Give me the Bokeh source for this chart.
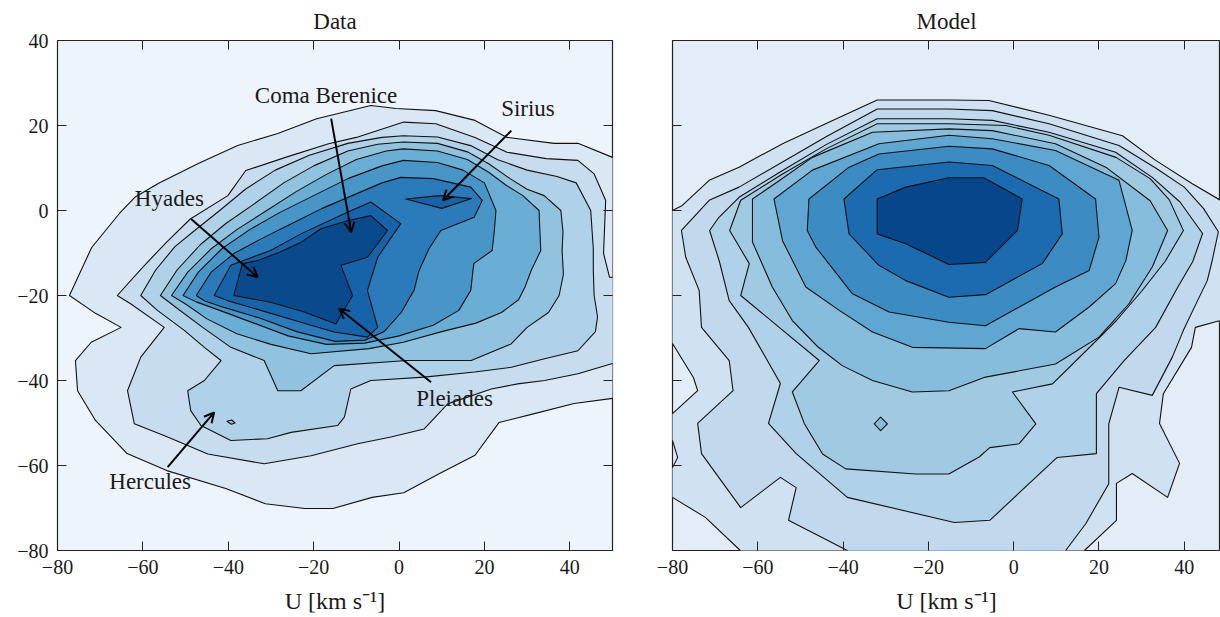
from bokeh.plotting import figure
from bokeh.layouts import row
from bokeh.models import FixedTicker, LinearAxis, Label, Arrow, OpenHead
from bokeh.embed import file_html
from bokeh.resources import INLINE

# ---------------------------------------------------------------- ticks
TICKS = [-80, -60, -40, -20, 0, 20, 40]
TICK_LABELS = ["\u221280", "\u221260", "\u221240", "\u221220", "0", "20", "40"]
X_AXIS_TITLE = "U [km s\u207b\u00b9]"

# ------------------------------------------------- filled contour bands
# Each level is the closed outline (U, V) in km/s of the region above that level.
DATA_COLORS = ["#edf4fb", "#dae8f5", "#c7dcef", "#b0d2e8", "#92c3de",
               "#6aaed6", "#4896c8", "#2b7bba", "#1663aa", "#0a4a8c"]
MODEL_COLORS = ["#e3edf8", "#d0e2f2", "#c1d8ed", "#b0d2e8", "#a0c9e2",
                "#86bddc", "#5fa6d2", "#3c8cc3", "#1c6aaf", "#08468b"]

DATA_L1 = [(-77.2, -20.0), (-72.0, -8.7), (-65.5, -0.7), (-61.9, 3.1), (-56.3, 6.4),
           (-46.9, 11.1), (-37.8, 15.3), (-28.4, 18.1), (-19.3, 21.6), (-6.6, 24.7),
           (-0.7, 24.0), (8.6, 23.5), (17.8, 21.2), (25.3, 17.2), (36.3, 15.8),
           (41.9, 15.8), (50, 12.5), (55, 12), (55, -44), (50, -44.2), (41.0, -45.4),
           (31.7, -47.8), (23.4, -49.9), (17.8, -57.6), (9.5, -61.9), (1.1, -66.4),
           (-6.3, -67.5), (-15.5, -70.1), (-22.1, -70.1), (-31.3, -69.0), (-40.6, -65.4),
           (-54.4, -61.2), (-63.7, -57.2), (-71.1, -49.4), (-75.3, -42.4), (-75.8, -35.3),
           (-72.1, -31.0), (-65.1, -27.5), (-71.1, -24.2)]
DATA_L2 = [(-66.0, -20.0), (-60.0, -13.3), (-54.5, -7.5), (-48.9, -2.0), (-40.1, 3.5),
           (-35.9, 9.4), (-26.6, 12.5), (-16.5, 15.7), (-10.0, 17.2), (1.1, 20.8),
           (8.6, 20.4), (17.8, 17.2), (25.3, 13.7), (34.5, 12.2), (41.9, 11.8),
           (45.7, 8.6), (48.4, 2.4), (47.9, -10.1), (49.3, -15.7), (55, -16), (55, -36),
           (50, -36), (41.9, -38.4), (34.1, -40.0), (27.8, -40.8), (21.6, -42.0),
           (11.4, -45.5), (5.9, -51.4), (-1.9, -53.3), (-9.7, -54.9), (-20.6, -57.7),
           (-31.6, -59.6), (-44.8, -57.3), (-54.2, -53.3), (-62.0, -50.2), (-63.6, -42.4),
           (-60.5, -34.5), (-55.0, -27.5), (-62.8, -22.0)]
DATA_L3 = [(-60.5, -20), (-57, -14), (-52.5, -8.5), (-47, -4), (-42, 0), (-36, 5),
           (-29, 9.5), (-21, 13), (-12, 15.8), (-4, 17.2), (1, 17.6), (9, 17.3),
           (17, 15.2), (23, 12), (30, 9.5), (37, 8), (41.5, 6.5), (44.9, 0), (45.5, -9),
           (45.5, -14), (45.7, -20), (46.5, -25), (46, -28.5), (41.9, -33.0),
           (34.1, -34.9), (26.3, -36.9), (17.7, -38.0), (5.9, -39.2), (-6.6, -40.0),
           (-11.3, -42.0), (-12.8, -48.6), (-14.4, -50.6), (-25.3, -52.2), (-30.8, -53.7),
           (-39.4, -54.1), (-46.4, -50.6), (-48.8, -47.1), (-49.5, -42.4), (-45.6, -40.0),
           (-41.7, -35.3), (-45.6, -32.2), (-50.3, -28.2), (-56.6, -23.5)]
DATA_L4 = [(-55.9, -20), (-52, -14), (-46.5, -8), (-40.5, -3), (-34, 1.5), (-27, 6.5),
           (-20, 10.5), (-12, 14), (-5, 15.6), (1, 16.1), (9, 15.8), (16, 13.8), (21, 11),
           (26, 7.5), (30, 5), (34, 3.5), (37.9, 0), (38.4, -5), (38.2, -9.5), (38.5, -15),
           (37.5, -20), (35, -24), (30, -27.5), (26.25, -31.4), (16.9, -35.3), (1.9, -35.3),
           (-15.2, -36.5), (-23.0, -42.4), (-28.4, -42.4), (-31.6, -35.3), (-39.4, -32.2),
           (-46, -27.5), (-52, -23)]
DATA_L5 = [(-53.3, -20), (-49.5, -14.5), (-44, -9), (-38, -4.5), (-31, 0), (-24, 4.5),
           (-17, 8.5), (-10, 12), (-3, 14), (1, 14.5), (9, 14), (16, 12), (21, 9), (25, 6),
           (29, 3.5), (32.8, 0), (33, -5), (33.2, -9.4), (31, -14), (29.5, -18),
           (28, -21), (24, -24), (18, -26.5), (10, -28.5), (1, -31), (-7, -32.5),
           (-20.6, -33.7), (-30, -31.5), (-38, -29), (-45, -25.5), (-50, -22)]
DATA_L6 = [(-50.6, -20), (-47, -14.5), (-41.5, -9), (-35, -4.5), (-28, -0.5), (-20, 3.5),
           (-12, 7.5), (-4, 10.5), (1, 11.8), (9, 11.3), (15, 9.5), (20, 6.5), (22.7, 0),
           (22.3, -5), (21.8, -9.4), (17.5, -12.5), (16.8, -18.8), (14, -23.5), (8, -27),
           (0, -29.5), (-8, -31.2), (-17, -31.5), (-26, -29.5), (-34, -26.5), (-42, -23.5),
           (-47.5, -21.5)]
DATA_L7 = [(-47.5, -20), (-44, -14.5), (-38.5, -10), (-32, -6.5), (-25, -3), (-18, 0.5),
           (-11, 3.5), (-4, 6.5), (0.4, 7.8), (8, 7.5), (16.8, 5.5), (19.5, 2.4),
           (17.6, -1.6), (9.8, -4.7), (7, -9), (4.7, -14.1), (3.5, -18.8), (0.5, -24),
           (-3.5, -28.5), (-8, -30.5), (-15, -30.8), (-24, -28.5), (-33, -25.2),
           (-41, -22.8), (-45.5, -21.3)]
DATA_L8 = [(-43.3, -20.0), (-39.4, -12.9), (-30.1, -9.4), (-23.0, -5.5), (-12.1, -0.4),
           (-6.6, 2.0), (0.4, -3.1), (-5.0, -11.0), (-7.4, -18.8), (-5.0, -27.5),
           (-7.4, -29.8), (-15.2, -28.6), (-23.0, -26.3), (-32.4, -23.5), (-40.2, -21.2)]
DATA_L9 = [(-38.7, -20.0), (-36.7, -12.5), (-33.2, -11.8), (-28, -9.8), (-23.0, -7.5),
           (-18.3, -4.3), (-12.1, -2.4), (-6.6, -1.2), (-2.7, -4.7), (-7.4, -11.0),
           (-13.6, -12.9), (-10.9, -20.0), (-14.8, -26.7), (-22.2, -23.9), (-30.1, -21.6)]
DATA_SIRIUS_L8 = [(1.6, 2.7), (9.5, 3.5), (17.0, 2.8), (10, 0.5)]
DATA_HERCULES_L4 = [(-40.3, -49.6), (-39.2, -49.3), (-38.4, -50.0), (-39.3, -50.3)]

MODEL_L1 = [(-85, 0), (-80, 0), (-77.7, 1.2), (-71.4, 7.1), (-64.4, 10.2), (-54.2, 15.7),
            (-44.1, 20.4), (-32.0, 26.0), (-15.2, 26.0), (-5.8, 25.9), (8.3, 22.4),
            (25.5, 17.6), (33.3, 11.8), (41.9, 6.3), (48.5, 2.4), (55, 0), (55, -26),
            (48, -26), (42.6, -27.5), (41.7, -32.2), (35.1, -43.1), (34.2, -50.1),
            (38.9, -59.5), (36.1, -67.5), (27.8, -61.9), (24.1, -64.2), (24.1, -72.9),
            (16.6, -80), (16, -85), (-65, -85), (-64.1, -80), (-72.3, -72.2), (-80, -67.5),
            (-85, -67.5), (-85, -60.5), (-80, -60.5), (-78.8, -58.1), (-80, -54.1),
            (-85, -54.1), (-85, -47.8), (-80, -47.8), (-74.1, -42.4), (-75.1, -39.3),
            (-80, -31.3), (-85, -31.3)]
MODEL_L2 = [(-77.9, -4.7), (-71.4, 2.4), (-64.4, 5.5), (-54.2, 11.4), (-44.1, 17.3),
            (-32.0, 23.9), (-15.2, 23.9), (-5.0, 23.5), (8.3, 20.4), (24.7, 15.3),
            (33.3, 10.0), (40, 5.5), (44.5, 0.5), (48, -5), (46.5, -12), (45.4, -16.5),
            (42.5, -22.5), (39.8, -28.2), (37.2, -34.5), (32.5, -43.5), (24.7, -41.6),
            (22.3, -50.2), (22.3, -64.3), (16.9, -73.7), (12.2, -80), (12, -85), (-39, -85),
            (-39.0, -80), (-52.8, -72.9), (-51.0, -65.2), (-54.7, -62.8), (-64.0, -69.9),
            (-73.2, -57.2), (-74.1, -50.1), (-65.8, -42.4), (-66.7, -35.3), (-73.2, -27.5),
            (-73.75, -18.8), (-76.9, -11.0)]
MODEL_L3 = [(-71.3, -4.7), (-69.1, -1.6), (-64.4, 3.1), (-54.2, 9.4), (-44, 15.5),
            (-32.0, 21.6), (-15.2, 21.6), (-5.0, 21.2), (8.3, 18.4), (23.9, 13.7),
            (32.5, 7.8), (39, 2), (44.3, -5.4), (42, -12), (38.5, -18), (33.3, -27.5),
            (25.9, -35.3), (19.4, -43.1), (19.4, -57.2), (10.2, -58.1), (-5.6, -72.9),
            (-13.9, -73.4), (-39.0, -67.5), (-51.0, -57.2), (-57.5, -50.1), (-54.7, -40.7),
            (-62.2, -27.5), (-66.7, -21.2), (-69, -12)]
MODEL_L4 = [(-66.6, -4.7), (-64, 2.4), (-54.2, 8.6), (-44, 14.5), (-32.0, 20.4),
            (-15.2, 20.4), (-1.9, 20.0), (8.3, 17.7), (24, 12.5), (32, 7.5), (36.5, 2.5),
            (39.8, -4.7), (35.5, -12), (30, -19), (24, -26), (17, -33), (9.1, -40.8),
            (-0.3, -42.7), (5.2, -50.2), (1.25, -54.9), (-5.6, -55.8), (-8.1, -58.0),
            (-15.2, -62.0), (-23, -62.0), (-39.4, -60.8), (-44.8, -57.3), (-49.1, -50.1),
            (-51.9, -42.7), (-45.6, -35.3), (-64.0, -20.0), (-62.0, -12.5)]
MODEL_L5 = [(-61.25, 2.7), (-55, 7), (-47.2, 12.5), (-33.1, 18.4), (-15.2, 19.2),
            (-5.0, 18.8), (9.8, 15.7), (21.6, 10.2), (32.0, 2.3), (36.1, -4.7),
            (32.5, -13.3), (27.0, -22.0), (20.0, -29.8), (9.8, -36.1), (2.0, -37.6),
            (-6.6, -39.2), (-15.2, -42.4), (-23.75, -42.7), (-33.1, -40.0), (-40.2, -36.5),
            (-46, -32), (-51.9, -25.9), (-56.6, -18.0), (-61.25, -7.4)]
MODEL_L6 = [(-56.2, 2.7), (-47.2, 9.5), (-31.6, 15.7), (-15.2, 17.7), (-5.0, 16.9),
            (9.8, 14.1), (24.7, 7.1), (27.8, -4.7), (26.3, -11.8), (23.9, -17.2),
            (17.7, -22.7), (9.8, -28.6), (1.25, -27.8), (-6.6, -32.5), (-23.75, -32.2),
            (-33.1, -28.6), (-40.9, -23.5), (-48.75, -18.0), (-51.1, -13.3), (-54.2, -7.1)]
MODEL_L7 = [(-48.4, -4.7), (-48.0, 2.7), (-38.6, 10.2), (-31.6, 13.3), (-15.2, 15.1),
            (-5.0, 14.5), (8.3, 10.6), (19.2, 2.7), (20.0, -6.3), (17.7, -14.1),
            (9.8, -18.0), (-6.6, -27.1), (-15.2, -26.3), (-29.2, -23.9), (-37.8, -19.6),
            (-46.4, -8.6)]
MODEL_L8 = [(-39.8, 2.7), (-32.0, 9.6), (-15.2, 11.4), (-5.0, 10.6), (10.6, 2.7),
            (11.4, -5.5), (6.7, -12.5), (-6.6, -19.8), (-15.2, -20.4), (-25.3, -16.5),
            (-31.6, -12.9), (-38.6, -5.5)]
MODEL_L9 = [(-32.0, 2.7), (-25.3, 5.5), (-15.2, 7.7), (-7.0, 7.7), (2.0, 2.7),
            (0.9, -4.7), (-6.6, -12.2), (-15.2, -12.7), (-25.3, -7.8), (-32.0, -5.5)]
MODEL_ISLAND_L5 = [(-32.7, -50.2), (-31.2, -48.6), (-29.6, -50.2), (-31.2, -51.8)]

# ------------------------------------------------------- annotations
ANNOT_TEXT = ["Coma Berenice", "Sirius", "Hyades", "Pleiades", "Hercules"]
ANNOT_TEXT_U = [-17.1, 30.2, -53.8, 13.0, -58.3]
ANNOT_TEXT_V = [27.1, 24.0, 2.8, -44.2, -63.8]
ARROW_TAIL_U = [-15.9, 26.3, -48.7, 7.5, -54.2]
ARROW_TAIL_V = [21.6, 18.8, -2.0, -40.4, -60.4]
ARROW_HEAD_U = [-11.2, 10.3, -33.1, -14.0, -43.3]
ARROW_HEAD_V = [-5.1, 2.4, -15.7, -23.1, -47.5]

SERIF = "Liberation Serif"
TICK_FS = "20px"
TEXT_FS = "23px"
INK = "#1a1a1a"


def make_panel(width, x_end, left_border, right_border, bg, with_labels, title):
    p = figure(width=width, height=617, x_range=(-80, x_end), y_range=(-80, 40),
               output_backend="svg", toolbar_location=None,
               min_border_left=left_border, min_border_right=right_border,
               min_border_top=40, min_border_bottom=67)
    p.background_fill_color = bg
    p.border_fill_color = "white"
    p.grid.visible = False
    p.outline_line_color = "#222222"
    p.outline_line_width = 1.2
    p.title.text = title
    p.title.align = "center"
    p.title.text_font = SERIF
    p.title.text_font_size = TEXT_FS
    p.title.text_font_style = "normal"
    p.title.text_color = INK
    p.title.standoff = 13
    overrides = {t: s for t, s in zip(TICKS, TICK_LABELS)}
    for ax in (p.xaxis[0], p.yaxis[0]):
        ax.ticker = FixedTicker(ticks=TICKS)
        ax.major_label_overrides = overrides
        ax.axis_line_color = None
        ax.major_tick_in = 9
        ax.major_tick_out = 0
        ax.major_tick_line_color = "#222222"
        ax.minor_tick_line_color = None
        ax.major_label_text_font = SERIF
        ax.major_label_text_font_size = TICK_FS
        ax.major_label_text_color = INK
    p.xaxis.major_label_standoff = 9
    p.yaxis.major_label_standoff = 9
    p.xaxis.axis_label = X_AXIS_TITLE
    p.xaxis.axis_label_text_font = SERIF
    p.xaxis.axis_label_text_font_size = "24px"
    p.xaxis.axis_label_text_font_style = "normal"
    p.xaxis.axis_label_text_color = INK
    p.xaxis.axis_label_standoff = 11
    if not with_labels:
        p.yaxis.major_label_text_color = None
        p.yaxis.major_label_text_font_size = "1px"
    sides = ["above", "right"] if with_labels else ["above"]
    for side in sides:
        ax = LinearAxis(ticker=FixedTicker(ticks=TICKS), axis_line_color=None,
                        major_tick_in=9, major_tick_out=0,
                        major_tick_line_color="#222222", minor_tick_line_color=None,
                        major_label_text_color=None, major_label_text_font_size="1px",
                        major_label_standoff=0)
        p.add_layout(ax, side)
    return p


def draw_band(p, outline, color):
    us = [pt[0] for pt in outline]
    vs = [pt[1] for pt in outline]
    p.patch(us, vs, fill_color=color, line_color="#111111", line_width=1.1,
            line_join="round")


left = make_panel(642, 50, 57, 30, DATA_COLORS[0], True, "Data")
for i, band in enumerate([DATA_L1, DATA_L2, DATA_L3, DATA_L4, DATA_L5,
                          DATA_L6, DATA_L7, DATA_L8, DATA_L9], start=1):
    draw_band(left, band, DATA_COLORS[i])
draw_band(left, DATA_SIRIUS_L8, DATA_COLORS[8])
draw_band(left, DATA_HERCULES_L4, DATA_COLORS[4])

for txt, tu, tv, au, av, hu, hv in zip(ANNOT_TEXT, ANNOT_TEXT_U, ANNOT_TEXT_V,
                                       ARROW_TAIL_U, ARROW_TAIL_V,
                                       ARROW_HEAD_U, ARROW_HEAD_V):
    left.add_layout(Arrow(end=OpenHead(size=10, line_width=2, line_color="black"),
                          x_start=au, y_start=av, x_end=hu, y_end=hv,
                          line_width=2, line_color="black"))
    left.add_layout(Label(x=tu, y=tv, text=txt, text_align="center",
                          text_baseline="middle", text_font=SERIF,
                          text_font_size=TEXT_FS, text_color=INK))

right = make_panel(578, 48.5, 30, 0, MODEL_COLORS[0], False, "Model")
for i, band in enumerate([MODEL_L1, MODEL_L2, MODEL_L3, MODEL_L4, MODEL_L5,
                          MODEL_L6, MODEL_L7, MODEL_L8, MODEL_L9], start=1):
    draw_band(right, band, MODEL_COLORS[i])
draw_band(right, MODEL_ISLAND_L5, MODEL_COLORS[5])

layout = row(left, right)
open("out.html", "w").write(file_html(layout, INLINE))
